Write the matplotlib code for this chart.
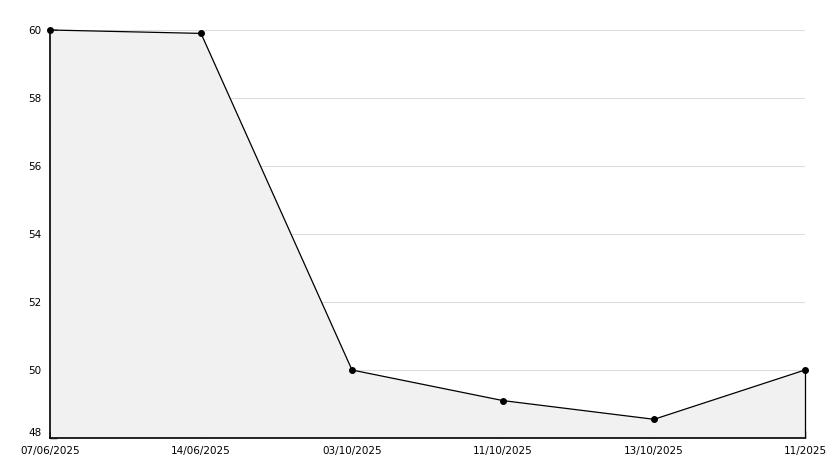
import matplotlib
matplotlib.use('Agg')
import matplotlib.pyplot as plt

dates = ['07/06/2025', '14/06/2025', '03/10/2025', '11/10/2025', '13/10/2025', '11/2025']
values = [60.0, 59.9, 50.0, 49.1, 48.55, 50.0]
y_major = [48, 50, 52, 54, 56, 58, 60]
y_minor = [49, 51, 53, 55, 57, 59]

fig = plt.figure(figsize=(8.34, 4.68), dpi=100)
ax = fig.add_axes([50/834, 30/468, 755/834, 408/468])

x = list(range(len(dates)))
ax.fill_between(x, values, 48, color='#f1f1f1', zorder=2, linewidth=0)
ax.plot(x, values, color='black', linewidth=0.9, marker='o', markersize=4,
        zorder=5, clip_on=False)
# closing edge of the area on the right
ax.vlines(x[-1], 48, values[-1], color='black', linewidth=0.9, zorder=4, clip_on=False)

ax.set_xlim(0, len(dates) - 1)
ax.set_ylim(48, 60)
ax.set_xticks(x)
ax.set_xticklabels(dates)
ax.set_yticks(y_major)
ax.set_yticks(y_minor, minor=True)
ax.grid(axis='y', color='#dddddd', linewidth=0.8, zorder=1)

for s in ['top', 'right']:
    ax.spines[s].set_visible(False)
for s in ['left', 'bottom']:
    ax.spines[s].set_linewidth(1.2)
    ax.spines[s].set_zorder(4)

ax.tick_params(axis='both', which='major', direction='in', length=5, width=1, labelsize=7.5)
ax.tick_params(axis='y', which='minor', direction='in', length=3, width=1)
ax.tick_params(axis='y', pad=6)
ax.tick_params(axis='x', pad=6)

# lift the bottom y label so it clears the first date
ax.get_yticklabels()[0].set_verticalalignment('bottom')

fig.savefig('out.png', dpi=100)
